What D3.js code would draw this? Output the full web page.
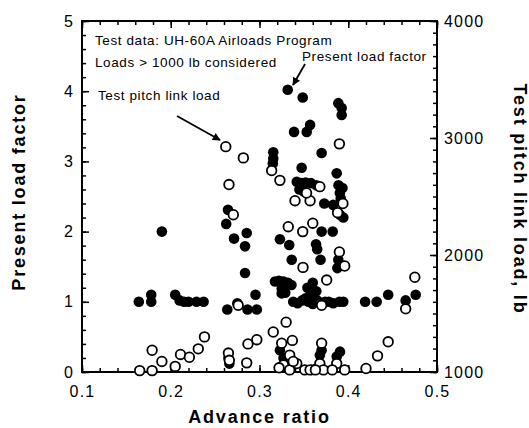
<!DOCTYPE html>
<html>
<head>
<meta charset="utf-8">
<script src="https://cdn.jsdelivr.net/npm/d3@7"></script>
<style>
  body { margin: 0; background: #fff; }
  svg { display: block; }
  .tick text { font-family: "Liberation Sans", Arial, sans-serif; font-size: 16px; letter-spacing: 1.2px; fill: #000; }
  .ttl { font-family: "Liberation Sans", Arial, sans-serif; font-size: 18px; font-weight: bold; letter-spacing: 1.8px; }
  .note { font-family: "Liberation Sans", Arial, sans-serif; font-size: 13.5px; letter-spacing: 0.6px; }
</style>
</head>
<body>
<div id="chart"></div>
<script>
// Data________________________________________________________________
// filled dots: present load factor (left axis)
const advFilled = [
  0.164, 0.178, 0.178, 0.19, 0.205, 0.21, 0.215, 0.22, 0.229, 0.237,
  0.2625, 0.2645, 0.2713, 0.2837, 0.2856, 0.2837, 0.2637, 0.275, 0.2865, 0.297, 0.2955, 0.265, 0.266,
  0.3155, 0.3155, 0.315, 0.3318, 0.3487, 0.3888, 0.3926, 0.3926, 0.3389, 0.3532, 0.357, 0.37, 0.3475, 0.387,
  0.342, 0.347, 0.352, 0.358, 0.364, 0.345, 0.35, 0.389, 0.3935, 0.3905, 0.3915, 0.373, 0.383, 0.3907, 0.3944,
  0.37, 0.3825, 0.323, 0.3335, 0.3637, 0.365, 0.3363, 0.3688, 0.3888, 0.3877,
  0.3175, 0.322, 0.327, 0.332, 0.325, 0.329, 0.336, 0.354, 0.36, 0.364, 0.358, 0.352, 0.325,
  0.338, 0.343, 0.348, 0.355, 0.36, 0.365, 0.368, 0.374, 0.378, 0.383, 0.39, 0.3944,
  0.419, 0.432, 0.445, 0.4647, 0.476,
  0.323, 0.327, 0.37, 0.368, 0.3907, 0.387, 0.359, 0.364
];
const factorFilled = [
  1.0, 1.1, 1.0, 2.0, 1.1, 1.02, 1.0, 1.0, 1.0, 1.0,
  2.11, 2.31, 1.9, 1.79, 1.98, 1.41, 0.89, 0.98, 0.89, 0.89, 1.1, 0.2, 0.12,
  3.13, 3.04, 2.97, 4.02, 3.91, 3.83, 3.76, 3.66, 3.42, 3.42, 3.52, 3.12, 2.91, 2.83,
  2.71, 2.69, 2.7, 2.69, 2.66, 2.6, 2.57, 2.66, 2.62, 2.55, 2.47, 2.4, 2.38, 2.24, 2.2,
  2.0, 2.0, 1.89, 1.81, 1.82, 1.75, 1.6, 1.6, 1.6, 1.48,
  1.29, 1.3, 1.29, 1.27, 1.19, 1.13, 1.24, 1.2, 1.27, 1.15, 1.1, 1.05, 1.12,
  1.0, 0.98, 1.02, 1.0, 0.97, 1.02, 0.99, 1.0, 1.0, 0.98, 1.0, 1.0,
  1.0, 1.0, 1.1, 1.02, 1.1,
  0.31, 0.2, 0.31, 0.24, 0.29, 0.22, 0.03, 0.05
];
// open circles: test pitch link load, lb (right axis)
const advOpen = [
  0.165, 0.179, 0.179, 0.19, 0.205, 0.211, 0.221, 0.231, 0.238,
  0.265, 0.266, 0.2856, 0.287, 0.297, 0.3155, 0.33, 0.325, 0.337, 0.334, 0.327, 0.334, 0.342,
  0.351, 0.357, 0.322, 0.338, 0.37, 0.368, 0.372, 0.363, 0.387, 0.382, 0.396,
  0.42, 0.433, 0.445, 0.4647, 0.475, 0.37, 0.276, 0.3757, 0.349, 0.39, 0.396,
  0.3324, 0.3487, 0.36, 0.2705, 0.388, 0.394, 0.34, 0.357, 0.353, 0.368,
  0.323, 0.2656, 0.3137, 0.262, 0.2818, 0.39
];
const loadOpen = [
  1012, 1012, 1186, 1090, 1048, 1150, 1126, 1198, 1300,
  1162, 1100, 1078, 1240, 1276, 1342, 1426, 1246, 1270, 1144, 1060, 1018, 1072,
  1018, 1018, 1036, 1090, 1246, 1072, 1018, 1018, 1072, 1018, 1018,
  1030, 1138, 1258, 1540, 1810, 1570, 1570, 1786, 1894, 2026, 1906,
  2242, 2200, 2272, 2344, 2362, 2440, 2464, 2464, 2530, 2584,
  2638, 2602, 2722, 2926, 2830, 2950
];
const xTicks = [0.1, 0.2, 0.3, 0.4, 0.5];
const leftTicks = [0, 1, 2, 3, 4, 5];
const rightTicks = [1000, 2000, 3000, 4000];

// Layout______________________________________________________________
const W = 529, H = 428;
const x0 = 82, x1 = 437, yTop = 21, yBot = 372;

const svg = d3.select('#chart').append('svg')
  .attr('width', W).attr('height', H);

const x = d3.scaleLinear().domain([0.1, 0.5]).range([x0, x1]);
const yL = d3.scaleLinear().domain([0, 5]).range([yBot, yTop]);
const yR = d3.scaleLinear().domain([1000, 4000]).range([yBot, yTop]);

// minor ticks
const xMinor = d3.range(0.1, 0.5001, 0.02);
const yLMinor = d3.range(0, 5.001, 0.2);
const yRMinor = d3.range(1000, 4001, 100);

function styleAxis(g) {
  g.select('.domain').remove();
  g.selectAll('.tick line').attr('stroke', '#000').attr('stroke-width', 1.5);
}

// bottom
svg.append('g').attr('transform', `translate(0,${yBot})`)
  .call(d3.axisBottom(x).tickValues(xMinor).tickSize(-4).tickFormat(''))
  .call(styleAxis);
svg.append('g').attr('transform', `translate(0,${yBot})`)
  .call(d3.axisBottom(x).tickValues(xTicks).tickSize(-7).tickPadding(14).tickFormat(d3.format('.1f')))
  .call(styleAxis);
// top
svg.append('g').attr('transform', `translate(0,${yTop})`)
  .call(d3.axisTop(x).tickValues(xMinor).tickSize(-4).tickFormat(''))
  .call(styleAxis);
svg.append('g').attr('transform', `translate(0,${yTop})`)
  .call(d3.axisTop(x).tickValues(xTicks).tickSize(-7).tickFormat(''))
  .call(styleAxis);
// left
svg.append('g').attr('transform', `translate(${x0},0)`)
  .call(d3.axisLeft(yL).tickValues(yLMinor).tickSize(-4).tickFormat(''))
  .call(styleAxis);
svg.append('g').attr('transform', `translate(${x0},0)`)
  .call(d3.axisLeft(yL).tickValues(leftTicks).tickSize(-7).tickPadding(8).tickFormat(d3.format('d')))
  .call(styleAxis);
// right
svg.append('g').attr('transform', `translate(${x1},0)`)
  .call(d3.axisRight(yR).tickValues(yRMinor).tickSize(-4).tickFormat(''))
  .call(styleAxis);
svg.append('g').attr('transform', `translate(${x1},0)`)
  .call(d3.axisRight(yR).tickValues(rightTicks).tickSize(-7).tickPadding(7).tickFormat(d3.format('d')))
  .call(styleAxis);

// frame
svg.append('rect')
  .attr('x', x0).attr('y', yTop)
  .attr('width', x1 - x0).attr('height', yBot - yTop)
  .attr('fill', 'none').attr('stroke', '#000').attr('stroke-width', 2);

// Points______________________________________________________________
svg.append('g').selectAll('circle')
  .data(d3.zip(advFilled, factorFilled))
  .enter().append('circle')
  .attr('cx', d => x(d[0]))
  .attr('cy', d => yL(d[1]))
  .attr('r', 5.3)
  .attr('fill', '#000');

svg.append('g').selectAll('circle')
  .data(d3.zip(advOpen, loadOpen))
  .enter().append('circle')
  .attr('cx', d => x(d[0]))
  .attr('cy', d => yR(d[1]))
  .attr('r', 4.8)
  .attr('fill', '#fff')
  .attr('stroke', '#000')
  .attr('stroke-width', 1.8);

// Titles______________________________________________________________
svg.append('text').attr('class', 'ttl')
  .attr('x', (x0 + x1) / 2).attr('y', 423)
  .attr('text-anchor', 'middle')
  .text('Advance ratio');

svg.append('text').attr('class', 'ttl')
  .attr('transform', 'translate(25,192) rotate(-90)')
  .attr('text-anchor', 'middle')
  .text('Present load factor');

svg.append('text').attr('class', 'ttl')
  .attr('transform', 'translate(514,199) rotate(90)')
  .attr('text-anchor', 'middle')
  .text('Test pitch link load, lb');

// Annotations_________________________________________________________
svg.append('text').attr('class', 'note').attr('x', 95).attr('y', 45)
  .text('Test data: UH-60A Airloads Program');
svg.append('text').attr('class', 'note').attr('x', 95).attr('y', 67)
  .text('Loads > 1000 lb considered');
svg.append('text').attr('class', 'note').attr('x', 98).attr('y', 100)
  .text('Test pitch link load');
svg.append('text').attr('class', 'note').attr('x', 302).attr('y', 61)
  .text('Present load factor');

svg.append('defs').append('marker')
  .attr('id', 'ah').attr('viewBox', '0 0 10 10')
  .attr('refX', 9).attr('refY', 5)
  .attr('markerWidth', 10).attr('markerHeight', 8)
  .attr('markerUnits', 'userSpaceOnUse')
  .attr('orient', 'auto')
  .append('path').attr('d', 'M0,0 L10,5 L0,10 Z').attr('fill', '#000');

svg.append('line')
  .attr('x1', 177).attr('y1', 116).attr('x2', 220).attr('y2', 140)
  .attr('stroke', '#000').attr('stroke-width', 1.8)
  .attr('marker-end', 'url(#ah)');
svg.append('line')
  .attr('x1', 305).attr('y1', 64).attr('x2', 293).attr('y2', 85)
  .attr('stroke', '#000').attr('stroke-width', 1.8)
  .attr('marker-end', 'url(#ah)');
</script>
</body>
</html>
